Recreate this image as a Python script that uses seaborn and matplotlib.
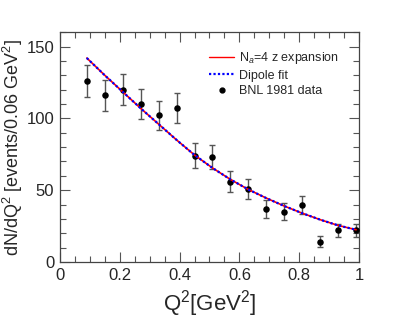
import numpy as np
import pandas as pd
import seaborn as sns
import matplotlib as mpl
import matplotlib.pyplot as plt
from matplotlib.lines import Line2D
from matplotlib.ticker import MultipleLocator

# BNL 1981 data, bins of 0.06 GeV^2
q2_data = [0.09, 0.15, 0.21, 0.27, 0.33, 0.39, 0.45, 0.51,
           0.57, 0.63, 0.69, 0.75, 0.81, 0.87, 0.93, 0.99]
events = [126, 116, 120, 110, 102, 107, 74, 73,
          56, 51, 37, 35, 40, 14, 22, 22]
events_err = [11, 10.8, 11, 10.5, 10, 10.4, 8.6, 8.5,
              7.5, 7.1, 6.1, 5.9, 6.3, 3.8, 4.7, 4.7]

# fit curves
q2_fit = [0.09, 0.15, 0.21, 0.27, 0.33, 0.39, 0.45, 0.51,
          0.57, 0.63, 0.69, 0.75, 0.81, 0.87, 0.93, 0.99]
zexp_fit = [142, 130, 118.5, 107, 96, 85, 74.5, 65.5,
            57.5, 50.5, 44.5, 39, 34, 29.5, 25.5, 22.5]
dipole_fit = [142, 130, 118.5, 107, 96, 85, 74.5, 65.5,
              57.5, 50.5, 44.5, 39, 34, 29.5, 25.5, 22.5]

sns.set_style('ticks')
mpl.rcParams.update({
    'font.family': ['Liberation Sans', 'DejaVu Sans'],
    'mathtext.fontset': 'custom',
    'mathtext.rm': 'Liberation Sans',
    'mathtext.it': 'Liberation Sans:italic',
    'xtick.direction': 'in',
    'ytick.direction': 'in',
    'xtick.top': True,
    'ytick.right': True,
})

df = pd.DataFrame({'q2': q2_fit, 'zexp': zexp_fit, 'dipole': dipole_fit})

fig = plt.figure(figsize=(3.99, 3.28), dpi=100)
ax = fig.add_axes([0.150, 0.201, 0.750, 0.701])

ax.errorbar(q2_data, events, yerr=events_err, fmt='none', ecolor='#555555',
            elinewidth=1.0, capsize=2.5, capthick=1.0, zorder=2)
sns.scatterplot(x=q2_data, y=events, ax=ax, color='black', s=22,
                edgecolor='black', linewidth=0, zorder=3)
sns.lineplot(data=df, x='q2', y='zexp', ax=ax, color='red', linewidth=1.2, zorder=4)
sns.lineplot(data=df, x='q2', y='dipole', ax=ax, color='blue', linewidth=1.6,
             linestyle=(0, (1, 1)), zorder=5)

ax.set_xlim(0, 1)
ax.set_ylim(0, 160)
ax.xaxis.set_major_locator(MultipleLocator(0.2))
ax.xaxis.set_minor_locator(MultipleLocator(0.05))
ax.yaxis.set_major_locator(MultipleLocator(50))
ax.yaxis.set_minor_locator(MultipleLocator(10))
ax.set_xticks([0, 0.2, 0.4, 0.6, 0.8, 1.0])
ax.set_xticklabels(['0', '0.2', '0.4', '0.6', '0.8', '1'])
ax.tick_params(which='major', length=7, width=0.8, color='#555555', labelsize=12, pad=4)
ax.tick_params(which='minor', length=4, width=0.8, color='#555555')
for s in ax.spines.values():
    s.set_color('#444444')
    s.set_linewidth(0.9)

ax.set_xlabel('Q$^2$[GeV$^2$]', fontsize=16, labelpad=4)
ax.set_ylabel('dN/dQ$^2$ [events/0.06 GeV$^2$]', fontsize=13, labelpad=4)
ax.yaxis.set_label_coords(-0.115, 0.5)

handles = [
    Line2D([], [], color='red', linewidth=1.0),
    Line2D([], [], color='blue', linewidth=1.6, linestyle=(0, (1, 1))),
    Line2D([], [], color='black', marker='o', markersize=3.5, linestyle='none'),
]
labels = ['N$_a$=4 z expansion', 'Dipole fit', 'BNL 1981 data']
ax.legend(handles, labels, loc='upper left', bbox_to_anchor=(0.482, 0.943),
          frameon=False, fontsize=9, handlelength=2.0, handletextpad=0.4,
          labelspacing=0.28, borderaxespad=0)

fig.savefig('out.png', dpi=100)
